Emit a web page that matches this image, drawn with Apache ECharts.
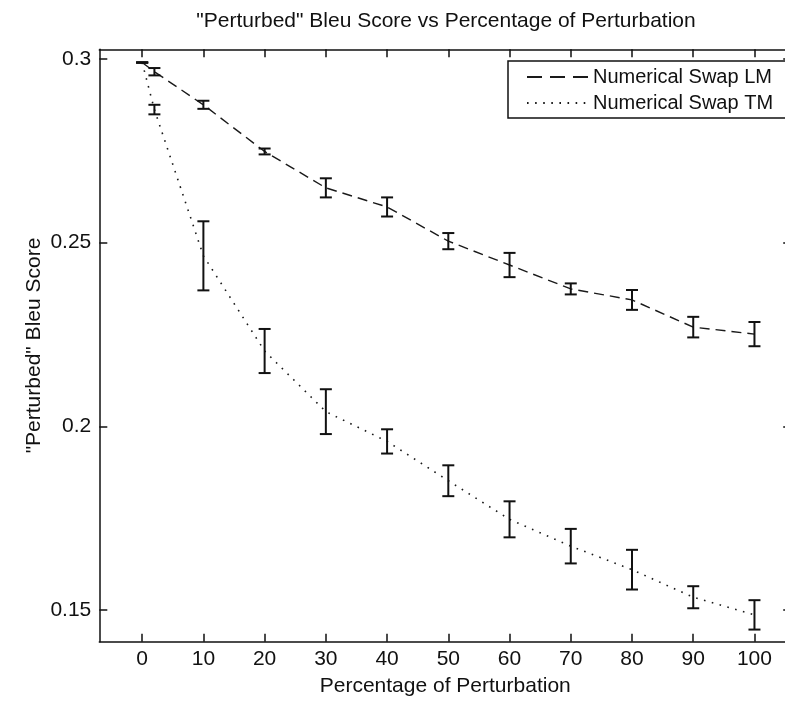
<!DOCTYPE html>
<html>
<head>
<meta charset="utf-8">
<script src="https://cdn.jsdelivr.net/npm/echarts@6/dist/echarts.min.js"></script>
<style>
  html, body { margin: 0; padding: 0; background: #fff; overflow: hidden; }
  #chart { width: 800px; height: 701px; }
</style>
</head>
<body>
<div id="chart"></div>
<script>
// ---- data ----
const xValues = [0, 2, 10, 20, 30, 40, 50, 60, 70, 80, 90, 100];
const lmMean  = [0.2990, 0.2965, 0.2875, 0.2748, 0.2649, 0.2597, 0.2504, 0.2439, 0.2374, 0.2344, 0.2270, 0.2251];
const lmErr   = [0.0000, 0.0010, 0.0011, 0.0008, 0.0026, 0.0026, 0.0022, 0.0033, 0.0015, 0.0027, 0.0028, 0.0033];
const tmMean  = [0.2990, 0.2862, 0.2464, 0.2205, 0.2040, 0.1959, 0.1852, 0.1747, 0.1674, 0.1610, 0.1535, 0.1487];
const tmErr   = [0.0000, 0.0013, 0.0094, 0.0060, 0.0061, 0.0033, 0.0042, 0.0049, 0.0047, 0.0054, 0.0030, 0.0040];
const xTicks  = [0, 10, 20, 30, 40, 50, 60, 70, 80, 90, 100];
const yTicks  = [0.15, 0.2, 0.25, 0.3];
const seriesNames = ['Numerical Swap LM', 'Numerical Swap TM'];
const titleText = '"Perturbed" Bleu Score vs Percentage of Perturbation';
const xName = 'Percentage of Perturbation';
const yName = '"Perturbed" Bleu Score';

const FONT = "'Liberation Sans', Arial, sans-serif";
const INK = '#111';

const pairs = (ys) => xValues.map((x, i) => [x, ys[i]]);
const triples = (ys, es) => xValues.map((x, i) => [x, ys[i], es[i]]);

function errorBar(params, api) {
  const x = api.value(0), y = api.value(1), e = api.value(2);
  const top = api.coord([x, y + e]);
  const bot = api.coord([x, y - e]);
  const hw = 6;
  const st = { stroke: INK, lineWidth: 2 };
  return {
    type: 'group',
    children: [
      { type: 'line', shape: { x1: top[0], y1: top[1], x2: bot[0], y2: bot[1] }, style: st },
      { type: 'line', shape: { x1: top[0] - hw, y1: top[1], x2: top[0] + hw, y2: top[1] }, style: st },
      { type: 'line', shape: { x1: bot[0] - hw, y1: bot[1], x2: bot[0] + hw, y2: bot[1] }, style: st }
    ]
  };
}

const axisLineStyle = { color: INK, width: 1.5 };
const tickStyle = { color: INK, width: 1.5 };
const labelStyle = { fontFamily: FONT, fontSize: 21, color: INK };

const chart = echarts.init(document.getElementById('chart'), null, { renderer: 'canvas' });
chart.setOption({
  backgroundColor: '#fff',
  animation: false,
  title: {
    text: titleText,
    left: 446,
    top: 11,
    padding: 0,
    textAlign: 'center',
    textStyle: { fontFamily: FONT, fontSize: 21, fontWeight: 'normal', color: INK }
  },
  legend: {
    data: [
      { name: seriesNames[0], lineStyle: { type: [15, 8] } },
      { name: seriesNames[1] }
    ],
    orient: 'vertical',
    left: 508,
    top: 61,
    padding: [3, 13, 2, 18],
    itemWidth: 63,
    itemHeight: 14,
    itemGap: 0,
    borderColor: INK,
    borderWidth: 1.5,
    backgroundColor: '#fff',
    itemStyle: { opacity: 0 },
    textStyle: { fontFamily: FONT, fontSize: 20, color: INK, lineHeight: 26, padding: [0, 0, 0, -2] }
  },
  grid: {
    left: 99.3,
    right: 8.8,
    top: 49.3,
    bottom: 59.3,
    containLabel: false,
    outerBoundsMode: 'none'
  },
  xAxis: [
    {
      type: 'value', position: 'bottom', min: -7, max: 106,
      name: xName, nameLocation: 'middle', nameGap: 34, nameMoveOverlap: false,
      nameTextStyle: { fontFamily: FONT, fontSize: 21, color: INK },
      axisLine: { show: true, onZero: false, lineStyle: axisLineStyle },
      axisTick: { show: true, inside: true, length: 8, customValues: xTicks, lineStyle: tickStyle },
      axisLabel: Object.assign({ show: true, margin: 7, customValues: xTicks }, labelStyle),
      splitLine: { show: false }
    },
    {
      type: 'value', position: 'top', min: -7, max: 106,
      axisLine: { show: true, onZero: false, lineStyle: axisLineStyle },
      axisTick: { show: true, inside: true, length: 8, customValues: xTicks, lineStyle: tickStyle },
      axisLabel: { show: false },
      splitLine: { show: false }
    }
  ],
  yAxis: [
    {
      type: 'value', position: 'left', min: 0.1414, max: 0.3026,
      name: yName, nameLocation: 'middle', nameGap: 55, nameMoveOverlap: false,
      nameTextStyle: { fontFamily: FONT, fontSize: 21, color: INK },
      axisLine: { show: true, onZero: false, lineStyle: axisLineStyle },
      axisTick: { show: true, inside: true, length: 8, customValues: yTicks, lineStyle: tickStyle },
      axisLabel: Object.assign({
        show: true, margin: 8, customValues: yTicks,
        formatter: (v) => String(+v.toFixed(2))
      }, labelStyle),
      splitLine: { show: false }
    },
    {
      type: 'value', position: 'right', min: 0.1414, max: 0.3026,
      axisLine: { show: true, onZero: false, lineStyle: axisLineStyle },
      axisTick: { show: true, inside: true, length: 8, customValues: yTicks, lineStyle: tickStyle },
      axisLabel: { show: false },
      splitLine: { show: false }
    }
  ],
  series: [
    {
      name: seriesNames[0], type: 'line', xAxisIndex: 0, yAxisIndex: 0,
      data: pairs(lmMean), symbol: 'none', smooth: false,
      lineStyle: { color: '#1a1a1a', width: 1.4, type: [10, 6] },
      itemStyle: { color: '#1a1a1a' }, z: 2
    },
    {
      name: seriesNames[1], type: 'line', xAxisIndex: 0, yAxisIndex: 0,
      data: pairs(tmMean), symbol: 'none', smooth: false,
      lineStyle: { color: '#1a1a1a', width: 1.6, type: [1.6, 6.5] },
      itemStyle: { color: '#1a1a1a' }, z: 2
    },
    {
      name: 'LM error', type: 'custom', xAxisIndex: 0, yAxisIndex: 0,
      data: triples(lmMean, lmErr), renderItem: errorBar, z: 3,
      encode: { x: 0, y: [1] }
    },
    {
      name: 'TM error', type: 'custom', xAxisIndex: 0, yAxisIndex: 0,
      data: triples(tmMean, tmErr), renderItem: errorBar, z: 3,
      encode: { x: 0, y: [1] }
    }
  ]
});
</script>
</body>
</html>
